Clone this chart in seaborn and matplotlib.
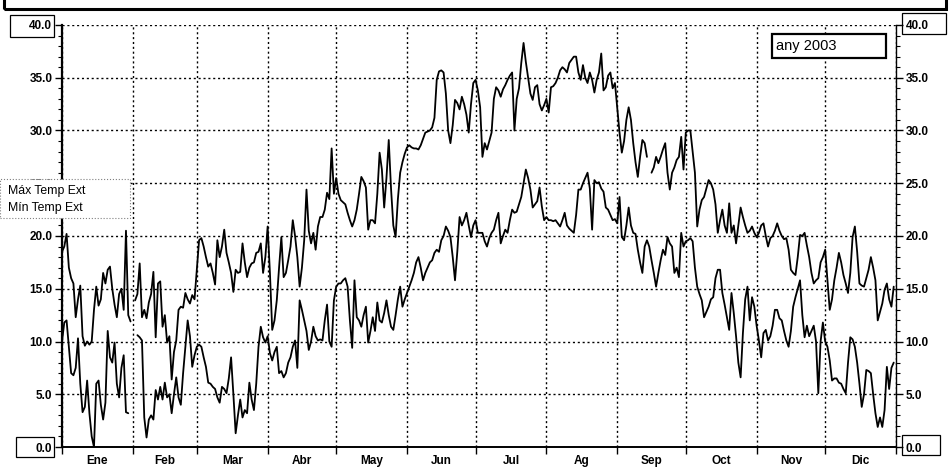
import numpy as np
import pandas as pd
import matplotlib
matplotlib.use("Agg")
import matplotlib.pyplot as plt
from matplotlib.patches import Rectangle
import seaborn as sns

# --- DATOS (any 2003) ---
meses = ["Ene", "Feb", "Mar", "Abr", "May", "Jun", "Jul", "Ag", "Sep", "Oct", "Nov", "Dic"]
dias_mes = [31, 28, 31, 30, 31, 30, 31, 31, 30, 31, 30, 31]
ticks_y = [0, 5, 10, 15, 20, 25, 30, 35, 40]

tmax = [
    # Ene
    18.5, 19, 20.2, 17, 16, 15.5, 12.3, 14, 15.3, 10.5, 9.6, 10, 9.7, 10, 13, 15.2, 13.4, 14, 16.5, 15.5,
    16.8, 17.1, 15, 13.5, 12.3, 14.5, 15, 13, 20.5, 12.5, 11.9,
    # Feb
    None, 13.9, 14.5, 17.4, 12.3, 13, 12.2, 13.7, 14.5, 16.6, 10.4, 15.5, 15.7, 11.4, 12.5, 9.9, 10.5, 6.4, 9, 10.1,
    13, 13.3, 13.2, 14.6, 14, 13.6, 14.4, 14,
    # Mar
    16.8, 19.6, 19.8, 19.0, 18, 17.1, 17.4, 16.5, 15.4, 19.6, 18.0, 19, 20.6, 18.4, 17.5, 16.5, 14.7, 16.8, 16.5, 16.6,
    19.3, 17.5, 16.1, 17, 17.4, 17.5, 18.4, 18.5, 19.3, 16.5, 18,
    # Abr
    20.9, 16.5, 11.1, 12, 13.9, 17, 19.9, 16.1, 16.5, 17.7, 19, 21.5, 20, 18, 15.2, 17, 19.6, 24.4, 20.5, 19.3,
    20.3, 18.7, 20.9, 21.8, 21.8, 22.5, 24.1, 23.5, 28.3, 24,
    # May
    25.5, 24, 23.4, 23.2, 23, 22.2, 21.5, 20.9, 21.5, 22.5, 24, 25.6, 25.2, 24.6, 20.6, 21.5, 21.5, 21.2, 24, 27.9,
    26.3, 22.7, 25.5, 29.1, 24.5, 21, 19.9, 23.5, 26, 27, 27.8,
    # Jun
    28.4, 28.6, 28.4, 28.3, 28.3, 28.2, 28.6, 29.2, 29.8, 29.9, 30, 30.3, 31.2, 34.8, 35.6, 35.7, 35.5, 33.5, 30, 28.8,
    30.5, 32.9, 32.6, 32, 33.2, 32.5, 31.5, 29.8, 32.5, 34.5,
    # Jul
    34.8, 33.8, 32.2, 27.5, 28.8, 28.2, 29.0, 29.8, 33, 34.1, 33.8, 33.2, 33.9, 34.3, 34.8, 35.2, 35.5, 30.0, 33, 34,
    36.4, 38.3, 36.5, 35, 33.5, 32.9, 34.1, 34.3, 32.5, 31.9, 32.4,
    # Ag
    33, 31.7, 34.1, 34.2, 34.5, 35, 35.7, 36, 35.8, 35.5, 36.4, 36.7, 37, 37, 35.5, 34.8, 36.2, 35, 34.5, 35.5,
    34.8, 33.6, 34.8, 35.5, 37.3, 33.8, 34.1, 35.2, 35.5, 34, 34.5,
    # Sep
    32.2, 29.8, 27.9, 29, 31, 32.2, 31, 28.8, 27, 25.6, 27.5, 29.1, 28.8, 27.5, None, 26.0, 26.5, 27.5, 26.9, 27.5,
    28.2, 28.8, 26, 24.4, 26.0, 26.5, 27.2, 27.5, 29.4, 26.3,
    # Oct
    29.8, 30, 30, 28, 26, 20.9, 22.5, 23.4, 23.7, 24.5, 25.3, 25, 24.4, 23, 20.3, 21.5, 22.5, 21, 20.3, 23.1,
    20.3, 21, 19.3, 21, 22.7, 21.8, 21, 20.3, 20.5, 20.9, 20.3,
    # Nov
    19.9, 20.3, 21, 21.2, 20, 19.0, 19.8, 20, 20.5, 21.2, 20.5, 20, 19.7, 19.8, 18.7, 16.8, 16.5, 16.3, 18, 20.1,
    20, 20.3, 19.1, 18, 16.5, 15.5, 15.8, 16, 17.5, 18.0,
    # Dic
    18.7, 15.8, 13.0, 14, 15.8, 17, 18.4, 17.5, 16.3, 15.5, 14.6, 16.5, 19.9, 20.9, 18.5, 15.5, 15.3, 15.2, 16, 16.8,
    18.0, 17, 15.8, 12.0, 12.8, 13.6, 14.9, 15.5, 14, 13.3, 15.2,
]

tmin = [
    # Ene
    10, 11.8, 12, 9.5, 7, 6.8, 7.5, 10.3, 6, 3.3, 3.8, 6.3, 3.2, 1.0, 0.0, 6, 6.3, 4, 2.6, 4.2,
    11, 8.5, 8, 9.9, 6, 4.7, 7.5, 8.7, 3.3, 3.2, None,
    # Feb
    None, None, 10.6, 10.4, 10.1, 2.8, 0.9, 2.6, 3.0, 2.6, 5.4, 4.5, 5.7, 4.5, 6.1, 4.7, 5, 3.2, 5, 6.6,
    4.7, 4.0, 7, 9.5, 12, 10.5, 7.6, 8.7,
    # Mar
    9.5, 9.7, 9.5, 8.5, 7.6, 6.1, 6.0, 5.7, 5.5, 4.7, 4.2, 5.7, 5.5, 5.1, 6.5, 8.5, 5.0, 1.3, 3, 4.5,
    2.8, 3.5, 3.2, 6.1, 4.5, 3.5, 6.0, 9.5, 11.4, 10.4, 9.9,
    # Abr
    10.5, 8.9, 8.2, 9.0, 9.5, 7.0, 7.2, 6.6, 7, 8.0, 8.5, 9.5, 10.1, 7.5, 13.9, 13, 12.0, 11, 9.2, 10,
    11.4, 10.5, 10.1, 10.2, 10.1, 12, 13.5, 10, 9.5, 13.9,
    # May
    15.2, 15.5, 15.5, 15.8, 16, 15.2, 12, 9.4, 15.8, 12.3, 12, 11.4, 12.5, 13.3, 9.9, 11, 12.3, 11, 13.7, 12,
    11.8, 12.7, 13.9, 12.5, 11.4, 11.1, 12.5, 14, 15.2, 13.3, 14,
    # Jun
    14.6, 15.2, 15.8, 16.5, 17.5, 18, 17, 15.8, 16.5, 17.0, 17.5, 17.7, 18.4, 18.7, 18.5, 19.6, 20, 20.9, 20.5, 19.9,
    18, 15.8, 18.5, 21.8, 21, 21.5, 22.2, 21, 19.9, 21,
    # Jul
    21.5, 20.3, 20.3, 20.3, 19.5, 19.0, 19.8, 20.3, 20.6, 21.5, 22.2, 19.3, 20, 20.6, 20.3, 21.5, 22.5, 22.2, 22.3, 23,
    23.7, 25, 26.3, 25.5, 24.4, 22.7, 23, 23.3, 24.6, 22.8, 21.5,
    # Ag
    21.8, 21.5, 21.5, 21.4, 21.5, 21.2, 20.9, 21.5, 22.2, 21, 20.7, 20.5, 20.3, 22, 24.4, 24.4, 25, 25.5, 26, 24.5,
    20.6, 25.3, 25, 25.1, 24.5, 24.2, 22.7, 22.5, 22, 21.5, 21.6,
    # Sep
    21.2, 23.7, 19.9, 19.6, 21, 22.7, 21, 20.3, 20.2, 18.7, 17.5, 16.5, 19.0, 19.6, 19, 17.7, 16.5, 15.2, 16.5, 17.7,
    18.7, 18.2, 19.9, 19.3, 19, 16.5, 17, 16.1, 20.3, 19.0,
    # Oct
    19.5, 19.6, 19.8, 19.5, 17, 15.2, 14.5, 13.9, 12.3, 12.8, 13.3, 14.0, 14.2, 16, 16.8, 16.8, 14.6, 13.5, 12.3, 11.1,
    14.6, 12.7, 10.5, 8, 6.6, 10.8, 14, 15.2, 12, 14.2, 13.3,
    # Nov
    11.5, 10.1, 8.5, 10.8, 11.1, 10.1, 10.5, 11.5, 13, 13, 12.2, 12.0, 11, 10.1, 9.5, 11, 13.3, 14.2, 15, 15.8,
    12.5, 10.4, 11.5, 10.5, 11, 11.5, 10.0, 5.1, 10, 11.8,
    # Dic
    10, 9.5, 8.2, 6.3, 6.5, 6.5, 6.1, 6, 5.5, 5.1, 8, 10.4, 10.2, 9.5, 8, 6, 3.8, 5, 7.3, 7.2,
    7.0, 5, 3.2, 1.9, 2.8, 1.9, 3.5, 7.6, 5.5, 7.5, 8.0,
]

# --- ESTILO ---
sns.set_theme(style="white")
plt.rcParams['font.family'] = ['Liberation Sans', 'DejaVu Sans']
plt.rcParams['text.color'] = 'black'

# tabla larga, cada tramo sin huecos es una unidad
df = pd.DataFrame({"dia": np.arange(len(tmax)), "Máx Temp Ext": tmax, "Mín Temp Ext": tmin})
largo = df.melt(id_vars="dia", var_name="serie", value_name="temp")
largo["temp"] = pd.to_numeric(largo["temp"])
largo["tram"] = largo.groupby("serie")["temp"].transform(lambda s: s.isna().cumsum())
largo = largo.dropna(subset=["temp"])
largo["unidad"] = largo["serie"] + "_" + largo["tram"].astype(int).astype(str)

fig = plt.figure(figsize=(9.5, 4.69), dpi=100)
ax = fig.add_axes([62 / 950, 1 - 447 / 469, 834 / 950, 422 / 469])

sns.lineplot(data=largo, x="dia", y="temp", hue="serie", units="unidad", estimator=None,
             palette=["black", "black"], linewidth=1.3, legend=False, ax=ax)

# ejes
inicio = np.cumsum([0] + dias_mes)
centros = inicio[:-1] + np.array(dias_mes) / 2
ax.set_xlim(0, 365)
ax.set_ylim(0, 40)
ax.set_xticks(inicio, [""] * len(inicio))
ax.set_xticks(centros, meses, minor=True, fontweight='bold', fontsize=8.5)
ax.set_yticks(ticks_y, [f"{v:.1f}" for v in ticks_y], fontweight='bold', fontsize=8.5)
ax.set_yticks(np.arange(0, 41, 1), minor=True)
ax.set_xlabel("")
ax.set_ylabel("")

ax.tick_params(axis='x', which='major', bottom=True, direction='out', length=5, width=1, color='black')
ax.tick_params(axis='x', which='minor', bottom=True, length=0, pad=6, labelcolor='black')
ax.tick_params(axis='y', which='both', left=True, right=True, labelleft=True, labelright=True,
               direction='out', color='black', labelcolor='black', pad=2)
ax.tick_params(axis='y', which='major', length=5, width=1)
ax.tick_params(axis='y', which='minor', length=3, width=0.8)

ax.grid(True, which='major', color='black', linestyle=(0, (1.5, 2.0)), linewidth=1.0)
ax.spines['top'].set_visible(False)
for lado, ancho in [('left', 1.6), ('bottom', 1.4), ('right', 1.0)]:
    ax.spines[lado].set_color('black')
    ax.spines[lado].set_linewidth(ancho)

# caja "any 2003"
ax.add_patch(Rectangle((0.851, 0.922), 0.137, 0.057, transform=ax.transAxes,
                       facecolor='white', edgecolor='black', linewidth=1.6, zorder=5))
ax.text(0.856, 0.950, "any 2003", transform=ax.transAxes, fontsize=10.5, va='center', ha='left', zorder=6)

# marco superior (título recortado)
fig.add_artist(Rectangle((4 / 950, 1 - 9 / 469), 942 / 950, 0.1, transform=fig.transFigure,
                         fill=False, edgecolor='black', linewidth=2.2, clip_on=False))

# cajas de las etiquetas 40.0 y 0.0
def caja(x0, y0, x1, y1):
    fig.add_artist(Rectangle((x0 / 950, 1 - y1 / 469), (x1 - x0) / 950, (y1 - y0) / 469,
                             transform=fig.transFigure, fill=False, edgecolor='black', linewidth=0.9))

caja(10, 15, 54, 37)
caja(16, 437, 54, 457)
caja(902, 13, 946, 34)
caja(902, 435, 940, 455)

# leyenda (tapa la etiqueta 25.0 como en el original)
fig.add_artist(Rectangle((0, 1 - 218 / 469), 130 / 950, 39 / 469, transform=fig.transFigure,
                         facecolor='white', edgecolor='gray', linewidth=0.8, linestyle=':'))
fig.text(8 / 950, 1 - 191 / 469, "Máx Temp Ext", fontsize=8.8, va='center', ha='left')
fig.text(8 / 950, 1 - 208 / 469, "Mín Temp Ext", fontsize=8.8, va='center', ha='left')

plt.savefig("out.png", dpi=100)
